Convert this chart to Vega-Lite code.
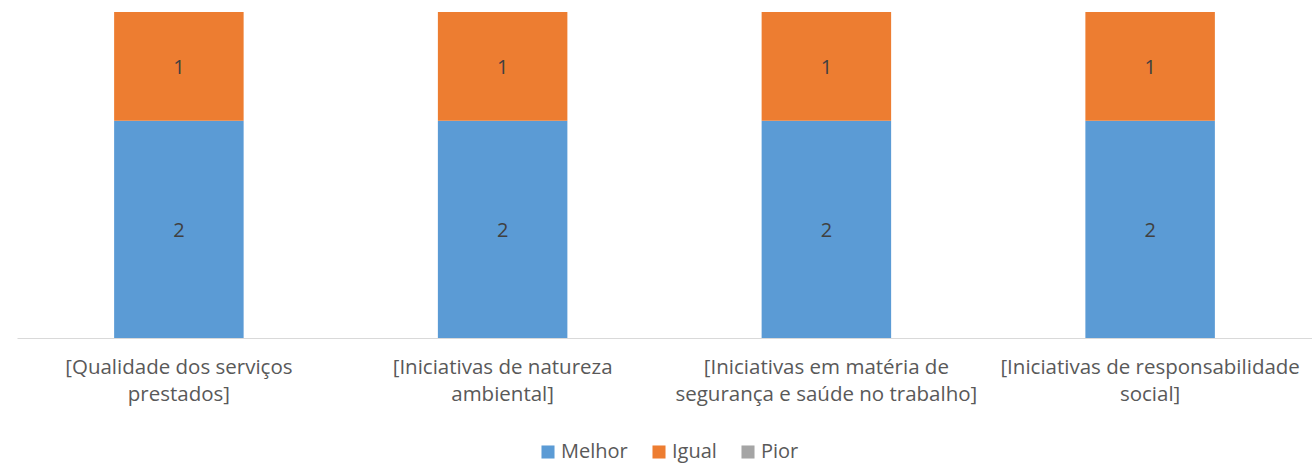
{
  "$schema": "https://vega.github.io/schema/vega-lite/v6.json",
  "width": 1295,
  "height": 326,
  "autosize": {"type": "none"},
  "padding": {"left": 17, "top": 12, "right": 0, "bottom": 126},
  "config": {"view": {"stroke": null}, "font": "Open Sans"},
  "data": {
    "values": [
      {"cat": "[Qualidade dos serviços prestados]", "serie": "Melhor", "ord": 1, "valor": 2},
      {"cat": "[Qualidade dos serviços prestados]", "serie": "Igual", "ord": 2, "valor": 1},
      {"cat": "[Qualidade dos serviços prestados]", "serie": "Pior", "ord": 3, "valor": 0},
      {"cat": "[Iniciativas de natureza ambiental]", "serie": "Melhor", "ord": 1, "valor": 2},
      {"cat": "[Iniciativas de natureza ambiental]", "serie": "Igual", "ord": 2, "valor": 1},
      {"cat": "[Iniciativas de natureza ambiental]", "serie": "Pior", "ord": 3, "valor": 0},
      {"cat": "[Iniciativas em matéria de segurança e saúde no trabalho]", "serie": "Melhor", "ord": 1, "valor": 2},
      {"cat": "[Iniciativas em matéria de segurança e saúde no trabalho]", "serie": "Igual", "ord": 2, "valor": 1},
      {"cat": "[Iniciativas em matéria de segurança e saúde no trabalho]", "serie": "Pior", "ord": 3, "valor": 0},
      {"cat": "[Iniciativas de responsabilidade social]", "serie": "Melhor", "ord": 1, "valor": 2},
      {"cat": "[Iniciativas de responsabilidade social]", "serie": "Igual", "ord": 2, "valor": 1},
      {"cat": "[Iniciativas de responsabilidade social]", "serie": "Pior", "ord": 3, "valor": 0}
    ]
  },
  "encoding": {
    "x": {
      "field": "cat",
      "type": "nominal",
      "sort": null,
      "scale": {"paddingInner": 0.6, "paddingOuter": 0.3},
      "axis": {
        "title": null,
        "labelAngle": 0,
        "ticks": false,
        "domainColor": "#d9d9d9",
        "domainWidth": 1,
        "labelColor": "#595959",
        "labelFontSize": 20.5,
        "labelLineHeight": 27,
        "labelPadding": 19,
        "labelBaseline": "top",
        "labelLimit": 0,
        "labelExpr": "datum.value == '[Qualidade dos serviços prestados]' ? ['[Qualidade dos serviços', 'prestados]'] : datum.value == '[Iniciativas de natureza ambiental]' ? ['[Iniciativas de natureza', 'ambiental]'] : datum.value == '[Iniciativas em matéria de segurança e saúde no trabalho]' ? ['[Iniciativas em matéria de', 'segurança e saúde no trabalho]'] : ['[Iniciativas de responsabilidade', 'social]']"
      }
    },
    "y": {"field": "valor", "type": "quantitative", "stack": "zero", "scale": {"domain": [0, 3], "nice": false}, "axis": null},
    "order": {"field": "ord", "type": "quantitative"}
  },
  "layer": [
    {
      "mark": {"type": "bar"},
      "encoding": {
        "color": {
          "field": "serie",
          "type": "nominal",
          "scale": {"domain": ["Melhor", "Igual", "Pior"], "range": ["#5b9bd5", "#ed7d31", "#a5a5a5"]},
          "legend": {
            "title": null,
            "orient": "none",
            "direction": "horizontal",
            "legendX": 521,
            "legendY": 430,
            "symbolType": "square",
            "symbolSize": 170,
            "symbolStrokeWidth": 0,
            "labelFontSize": 20,
            "labelColor": "#595959",
            "labelOffset": 3,
            "columnPadding": 21
          }
        }
      }
    },
    {
      "transform": [{"filter": "datum.valor > 0"}],
      "mark": {"type": "text", "fontSize": 20, "color": "#404040", "baseline": "middle", "dy": {"expr": "datum.valor * 54.33 + 2"}},
      "encoding": {
        "detail": {"field": "serie", "type": "nominal"},
        "text": {"field": "valor", "type": "quantitative"}
      }
    }
  ]
}
